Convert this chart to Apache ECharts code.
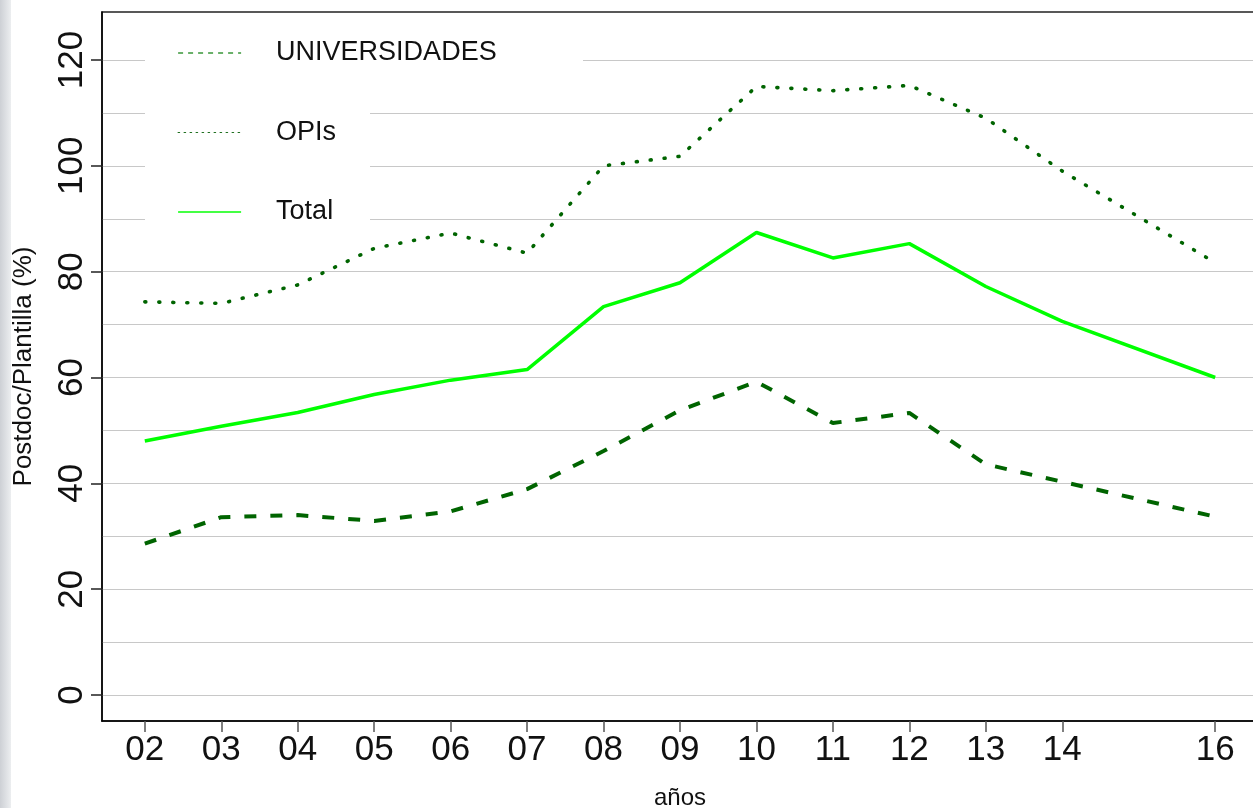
<!DOCTYPE html>
<html>
<head>
<meta charset="utf-8">
<script src="https://cdn.jsdelivr.net/npm/echarts@6/dist/echarts.min.js"></script>
<style>
html,body{margin:0;padding:0;background:#fff;}
#chart{width:1253px;height:808px;}
</style>
</head>
<body>
<div id="chart"></div>
<script>
// ---- data ----
const years = [2, 3, 4, 5, 6, 7, 8, 9, 10, 11, 12, 13, 14, 16];
const universidades = [28.6, 33.6, 34.0, 32.9, 34.7, 38.9, 46.1, 53.8, 59.2, 51.4, 53.3, 43.6, 40.3, 33.7];
const opis = [74.3, 74.0, 77.5, 84.4, 87.3, 83.5, 100.0, 101.8, 115.0, 114.2, 115.2, 109.0, 99.0, 81.7];
const total = [48.0, 50.8, 53.4, 56.8, 59.5, 61.5, 73.4, 77.9, 87.4, 82.6, 85.3, 77.2, 70.6, 60.0];
const xTickValues = [2, 3, 4, 5, 6, 7, 8, 9, 10, 11, 12, 13, 14, 16];
const xTickLabels = ['02', '03', '04', '05', '06', '07', '08', '09', '10', '11', '12', '13', '14', '16'];
const yTickValues = [0, 20, 40, 60, 80, 100, 120];
const yGridValues = [0, 10, 20, 30, 40, 50, 60, 70, 80, 90, 100, 110, 120];
const seriesNames = ['UNIVERSIDADES', 'OPIs', 'Total'];
const xTitle = 'años';
const yTitle = 'Postdoc/Plantilla (%)';

const FONT = '"Liberation Sans", Arial, Helvetica, sans-serif';
const pair = (xs, ys) => xs.map((x, i) => [x, ys[i]]);

const chart = echarts.init(document.getElementById('chart'), null, {renderer: 'canvas'});
const option = {
  animation: false,
  backgroundColor: '#fff',
  grid: {left: 102, top: 12, width: 1156, height: 709, outerBoundsMode: 'none', containLabel: false,
         show: true, borderColor: '#222', borderWidth: 1.5, backgroundColor: 'transparent'},
  graphic: {elements: [
    {type: 'rect', z: 1, shape: {x: 0, y: 0, width: 11, height: 808},
     style: {fill: new echarts.graphic.LinearGradient(0, 0, 1, 0, [{offset: 0, color: '#cdd0d5'}, {offset: 1, color: '#eceef0'}])}},
    {type: 'rect', z: 1, shape: {x: 145, y: 13, width: 438, height: 88}, style: {fill: '#fff'}},
    {type: 'rect', z: 1, shape: {x: 145, y: 13, width: 225, height: 230}, style: {fill: '#fff'}}
  ]},
  xAxis: {
    type: 'value', min: 1.44, max: 16.56,
    name: xTitle, nameLocation: 'middle', nameGap: 65,
    nameTextStyle: {fontSize: 24, fontFamily: FONT, color: '#111'},
    axisLine: {show: true, onZero: false, lineStyle: {color: '#000', width: 1.5}},
    axisTick: {show: true, length: 11, customValues: xTickValues, lineStyle: {color: '#555', width: 1.5}},
    axisLabel: {customValues: xTickValues, margin: 12, fontSize: 35, fontFamily: FONT, color: '#111',
      formatter: v => xTickLabels[xTickValues.indexOf(Math.round(v))]},
    splitLine: {show: false}
  },
  yAxis: [{
    type: 'value', min: -4.91, max: 129.07,
    name: yTitle, nameLocation: 'middle', nameGap: 65, nameRotate: 90,
    nameTextStyle: {fontSize: 26, fontFamily: FONT, color: '#111'},
    axisLine: {show: true, onZero: false, lineStyle: {color: '#000', width: 1.5}},
    axisTick: {show: true, length: 11, customValues: yTickValues, lineStyle: {color: '#222', width: 1.5}},
    axisLabel: {customValues: yTickValues, rotate: 90, margin: 12, fontSize: 35, fontFamily: FONT, color: '#111'},
    splitLine: {show: false}
  }, {
    type: 'value', min: -4.91, max: 129.07, position: 'left',
    axisLine: {show: false}, axisLabel: {show: false},
    axisTick: {show: false, customValues: yGridValues},
    splitLine: {show: true, lineStyle: {color: '#c8c8c8', width: 1.2}}
  }],
  legend: {
    orient: 'vertical', left: 172, top: 33, itemWidth: 63, itemHeight: 14, itemGap: 49.5,
    selectedMode: false,
    itemStyle: {opacity: 0},
    textStyle: {fontSize: 27, fontFamily: FONT, color: '#111', lineHeight: 30, padding: [0, 0, 0, 30]},
    data: [
      {name: seriesNames[0], itemStyle: {opacity: 0}, lineStyle: {color: '#3a963a', width: 1.5, type: [5, 5]}},
      {name: seriesNames[1], itemStyle: {opacity: 0}, lineStyle: {color: '#1f6f1f', width: 1.2, type: [1.5, 4.5]}},
      {name: seriesNames[2], itemStyle: {opacity: 0}, lineStyle: {color: '#44ff44', width: 2.2, type: 'solid'}}
    ]
  },
  series: [
    {name: seriesNames[0], type: 'line', symbol: 'none', data: pair(years, universidades),
     lineStyle: {color: '#006400', width: 4, type: [12, 14], cap: 'butt'}, itemStyle: {color: '#006400'}},
    {name: seriesNames[1], type: 'line', symbol: 'none', data: pair(years, opis),
     lineStyle: {color: '#006400', width: 3.6, type: [1, 13], cap: 'round'}, itemStyle: {color: '#006400'}},
    {name: seriesNames[2], type: 'line', symbol: 'none', data: pair(years, total),
     lineStyle: {color: '#00ff00', width: 3.5, type: 'solid'}, itemStyle: {color: '#00ff00'}}
  ]
};
chart.setOption(option);
</script>
</body>
</html>
